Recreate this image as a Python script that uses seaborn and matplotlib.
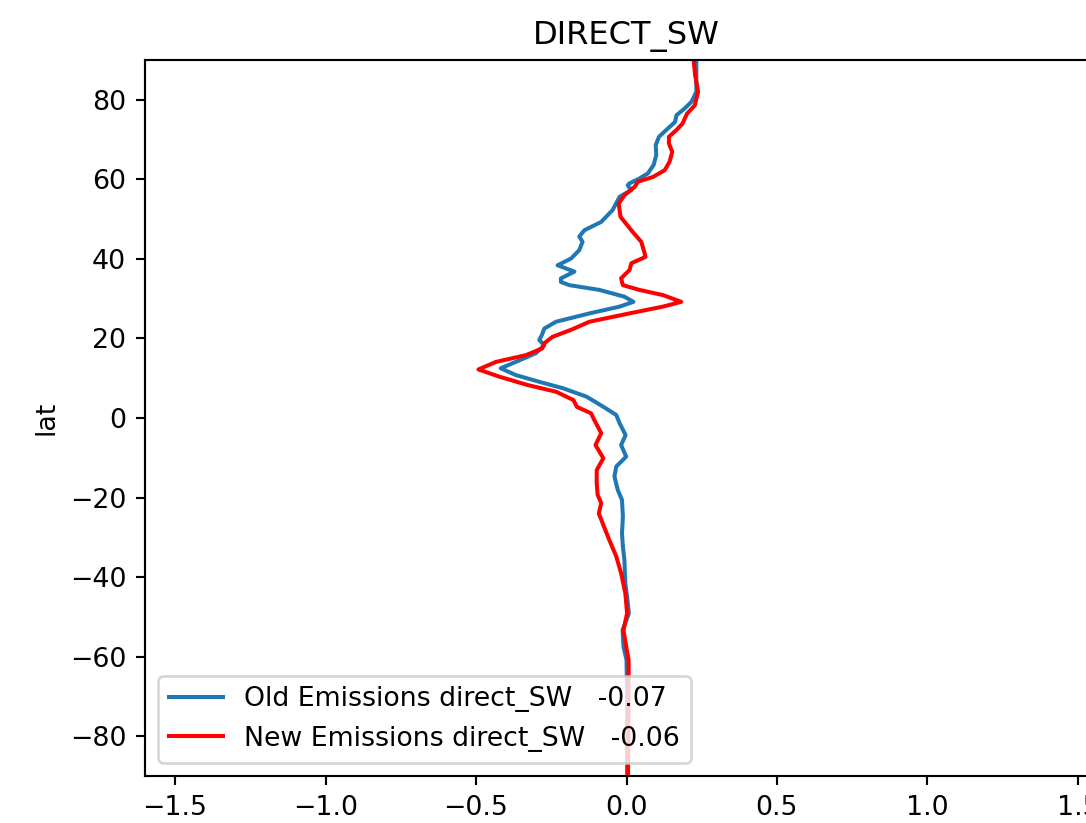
import numpy as np
import pandas as pd
import matplotlib
matplotlib.use("Agg")
import matplotlib.pyplot as plt
import seaborn as sns

# ---- data ----
lat_old = [90, 82, 79.5, 77.8, 76.1, 74.4, 72.4, 70.7, 68.6, 66.1, 63.6, 61.5, 60.2, 59.0,
           58.5, 57.3, 55.6, 52.3, 49.3, 47.2, 45.6, 44.3, 42.2, 40.1, 38.4, 36.8, 35.1,
           34.2, 33.4, 32.2, 30.5, 29.2, 28.0, 26.3, 24.2, 22.5, 20.9, 19.6, 18.3, 16.3,
           14.1, 12.5, 10.8, 9.1, 7.5, 5.4, 4.2, 2.4, 0.75, -1.3, -4.3, -6.8, -9.7,
           -12.2, -14.7, -18.1, -20.6, -24.8, -29, -32.3, -35.7, -41.5, -45, -49.1,
           -53.3, -57.5, -60.8, -70, -80, -90]
old_sw = [0.232, 0.232, 0.216, 0.193, 0.166, 0.161, 0.132, 0.108, 0.097, 0.099, 0.090,
          0.071, 0.043, 0.010, 0.004, 0.016, -0.023, -0.046, -0.084, -0.140, -0.157,
          -0.146, -0.157, -0.184, -0.229, -0.173, -0.218, -0.218, -0.190, -0.090, -0.007,
          0.023, -0.023, -0.123, -0.234, -0.273, -0.281, -0.290, -0.273, -0.301, -0.368,
          -0.418, -0.368, -0.290, -0.212, -0.134, -0.107, -0.068, -0.034, -0.023, -0.003,
          -0.018, -0.001, -0.034, -0.040, -0.029, -0.015, -0.012, -0.015, -0.012, -0.007,
          -0.004, 0.002, 0.008, -0.013, -0.010, 0.000, 0.002, 0.002, 0.002]

lat_new = [90, 86.2, 82, 78.6, 76.5, 74, 72.4, 70.7, 69, 66.9, 64.4, 62.3, 60.6, 59.4,
           58.1, 56, 53.9, 50.6, 47.2, 44.3, 41.5, 40.5, 38.9, 37.2, 35.1, 33.4, 32.2,
           30.9, 29.2, 28.0, 26.3, 24.2, 22.3, 20.4, 18.8, 17.5, 15.8, 14.1, 12.2, 10.4,
           8.3, 6.6, 4.5, 2.8, 1.2, -0.5, -3.8, -6.8, -10.1, -13.1, -16.4, -19.3, -21.4,
           -24, -26.5, -30.7, -34.8, -39, -44, -49.1, -53.3, -57.5, -60.8, -70, -80, -90]
new_sw = [0.223, 0.228, 0.238, 0.227, 0.201, 0.186, 0.166, 0.141, 0.141, 0.152, 0.143,
          0.127, 0.088, 0.038, 0.027, -0.007, -0.026, -0.020, 0.016, 0.049, 0.060, 0.063,
          0.016, 0.010, -0.018, -0.012, 0.043, 0.121, 0.182, 0.121, 0.010, -0.123, -0.180,
          -0.246, -0.273, -0.280, -0.334, -0.434, -0.492, -0.423, -0.329, -0.234, -0.176,
          -0.165, -0.118, -0.107, -0.084, -0.103, -0.077, -0.099, -0.099, -0.096, -0.084,
          -0.092, -0.079, -0.057, -0.034, -0.018, -0.004, 0.002, -0.010, -0.001, 0.007,
          0.007, 0.006, 0.005]

labels = ["Old Emissions direct_SW   -0.07", "New Emissions direct_SW   -0.06"]
colors = ["#1f77b4", "red"]
title = "DIRECT_SW"
x_ticks = [-1.5, -1.0, -0.5, 0.0, 0.5, 1.0, 1.5]
y_ticks = [-80, -60, -40, -20, 0, 20, 40, 60, 80]

# ---- figure ----
DPI = 193
fig = plt.figure(figsize=(1086 / DPI, 823 / DPI), dpi=DPI)
ax = fig.add_axes([145 / 1086, 47 / 823, 963 / 1086, 716 / 823])

df_old = pd.DataFrame({"lat": lat_old, "val": old_sw})
df_new = pd.DataFrame({"lat": lat_new, "val": new_sw})
sns.lineplot(data=df_old, x="val", y="lat", sort=False, estimator=None,
             color=colors[0], label=labels[0], linewidth=1.5, ax=ax)
sns.lineplot(data=df_new, x="val", y="lat", sort=False, estimator=None,
             color=colors[1], label=labels[1], linewidth=1.5, ax=ax)
for ln in ax.lines:
    ln.set_solid_joinstyle("round")

ax.set_xlim(-1.6, 1.6)
ax.set_ylim(-90, 90)
ax.set_xticks(x_ticks)
ax.set_xticklabels([f"{t:.1f}".replace("-", "\u2212") for t in x_ticks])
ax.set_yticks(y_ticks)
ax.set_xlabel("")
ax.set_ylabel("lat")
ax.set_title(title)
ax.legend(loc="lower left")

fig.savefig("out.png", dpi=DPI)
